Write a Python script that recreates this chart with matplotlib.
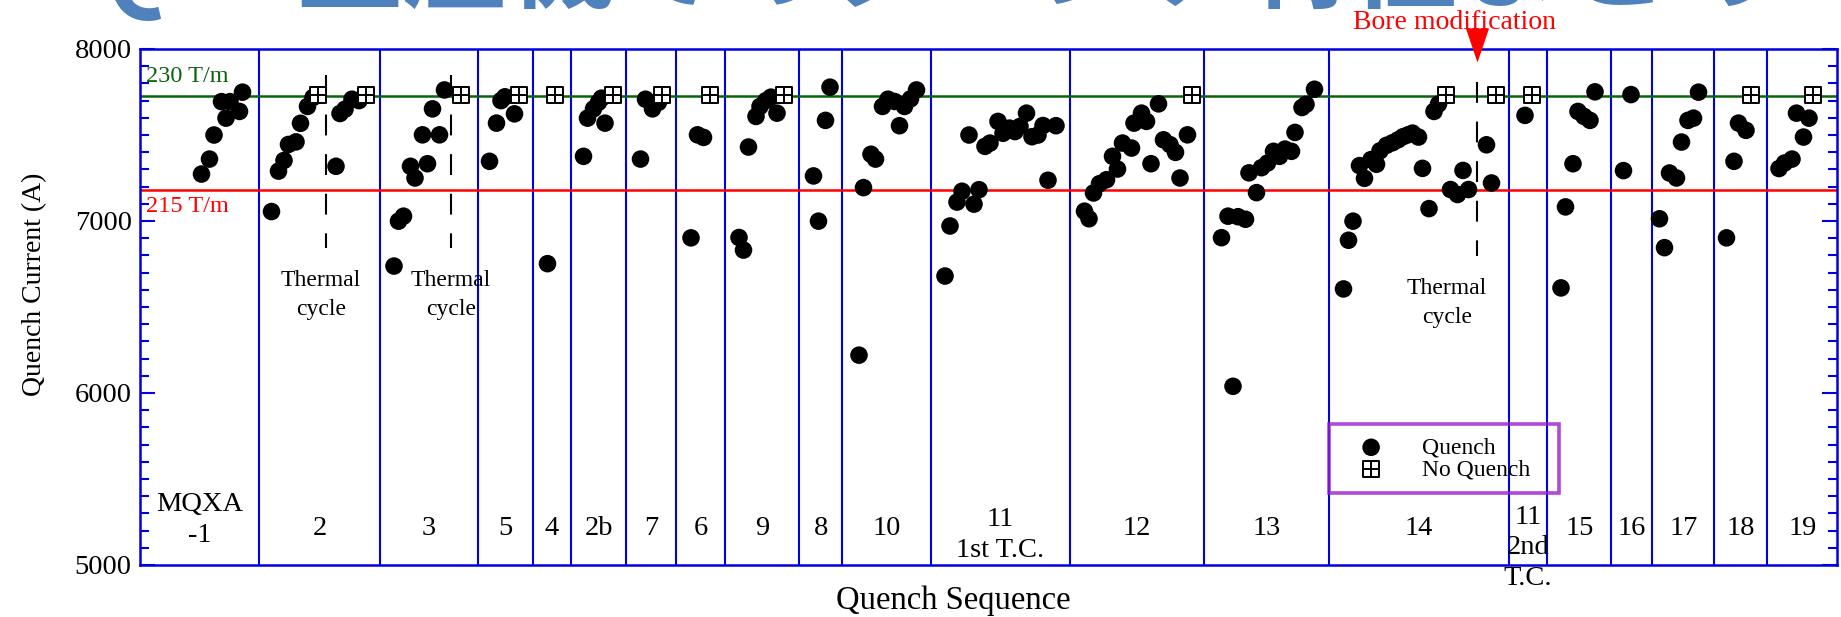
import matplotlib
matplotlib.use("Agg")
import matplotlib.pyplot as plt
from matplotlib.path import Path
from matplotlib.transforms import blended_transform_factory

plt.rcParams['font.family'] = ['Liberation Serif', 'DejaVu Serif']

# magnet order along the quench sequence, with section boundaries
section_labels = ['MQXA\n-1', '2', '3', '5', '4', '2b', '7', '6', '9', '8', '10',
                  '11\n1st T.C.', '12', '13', '14', '11\n2nd\nT.C.',
                  '15', '16', '17', '18', '19']
section_edges = [0, 23.8, 48.0, 67.6, 78.6, 86.2, 97.2, 107.2, 117.0, 131.9, 140.4,
                 158.2, 186.0, 212.8, 237.8, 273.8, 281.4, 294.3, 302.5, 314.9,
                 325.5, 339.4]

# quenches (sequence position, current in A)
quench_seq = [
    12.3, 13.9, 14.8, 16.3, 17.2, 18.0, 19.9, 20.5,
    26.3, 27.7, 28.8, 29.7, 31.2, 32.1, 33.5, 34.6, 39.2, 40.0, 41.0, 42.4, 43.8,
    50.8, 51.7, 52.7, 54.1, 55.0, 56.5, 57.5, 58.5, 59.9, 60.9,
    69.9, 71.3, 72.2, 73.0, 74.9,
    81.5,
    88.7, 89.5, 90.7, 91.7, 92.3, 93.0,
    100.1, 101.1, 102.5, 103.7,
    110.2, 111.5, 112.7,
    119.8, 120.7, 121.7, 123.2, 124.0, 125.2, 126.2, 127.4,
    134.7, 135.7, 137.1, 138.0,
    143.8, 144.7, 146.2, 147.1, 148.5, 149.6, 150.9, 151.9, 152.9, 154.1, 155.3,
    161.0, 162.0, 163.4, 164.4, 165.8, 166.8, 167.8, 169.0, 170.0, 171.6,
    172.6, 173.9, 175.0, 176.0, 177.3, 178.4, 179.6, 180.6, 181.6, 183.2,
    188.9, 189.8, 190.7, 191.9, 193.3, 194.5, 195.5, 196.5, 198.3, 198.8,
    200.3, 201.3, 202.2, 203.7, 204.7, 206.0, 207.1, 208.0, 209.5,
    216.3, 217.6, 218.6, 219.6, 221.1, 221.8, 223.3, 224.3, 225.5, 226.7,
    227.9, 229.0, 230.3, 231.0, 232.4, 233.2, 234.9,
    240.7, 241.7, 242.6, 243.9, 244.9, 246.2, 247.3, 248.0, 249.3, 250.5,
    251.6, 252.6, 253.6, 254.5, 255.7, 256.5, 257.8, 258.8, 259.7, 262.1,
    263.5, 264.6, 265.7, 269.3, 270.3,
    277.0,
    284.2, 285.1, 286.6, 287.6, 288.8, 290.0, 291.0,
    296.7, 298.2,
    303.9, 304.9, 305.9, 307.3, 308.3, 309.6, 310.7, 311.7,
    317.3, 318.8, 319.7, 321.2,
    327.8, 328.9, 330.4, 331.3, 332.7, 333.8,
]
quench_current = [
    7273, 7360, 7500, 7694, 7598, 7694, 7637, 7749,
    7055, 7290, 7352, 7445, 7460, 7568, 7666, 7718, 7318, 7625, 7650, 7708, 7700,
    6738, 6999, 7028, 7318, 7250, 7501, 7333, 7652, 7501, 7762,
    7347, 7569, 7700, 7722, 7623,
    6752,
    7376, 7598, 7652, 7690, 7714, 7569,
    7360, 7708, 7652, 7690,
    6902, 7501, 7486,
    6904, 6831, 7430, 7608, 7666, 7700, 7720, 7627,
    7262, 6999, 7585, 7778,
    6220, 7194, 7388, 7360, 7666, 7708, 7695, 7554, 7666, 7710, 7762,
    6680, 6971, 7110, 7173, 7500, 7098, 7182, 7434, 7453, 7579,
    7510, 7540, 7520, 7550, 7627, 7490, 7500, 7555, 7237, 7554,
    7057, 7013, 7163, 7217, 7240, 7376, 7302, 7453, 7424, 7569,
    7627, 7579, 7333, 7681, 7472, 7444, 7399, 7250, 7501,
    6903, 7028, 6039, 7025, 7010, 7280, 7165, 7310, 7337, 7405,
    7376, 7418, 7405, 7515, 7660, 7678, 7766,
    6605, 6888, 6999, 7322, 7248, 7357, 7330, 7408, 7440, 7455,
    7472, 7490, 7501, 7511, 7488, 7306, 7072, 7637, 7680, 7183,
    7154, 7294, 7183, 7443, 7221,
    7614,
    6611, 7082, 7333, 7637, 7608, 7585, 7751,
    7293, 7735,
    7013, 6845, 7279, 7250, 7459, 7585, 7598, 7749,
    6902, 7347, 7569, 7527,
    7305, 7337, 7360, 7627, 7488, 7598,
]

# ramps that reached the plateau without quenching
no_quench_seq = [35.6, 45.1, 64.3, 75.7, 83.0, 94.5, 104.5, 114.1, 128.8,
                 210.5, 261.2, 271.3, 278.5, 322.2, 334.7]
no_quench_current = [7730, 7730, 7730, 7730, 7730, 7730, 7730, 7730, 7730,
                     7730, 7730, 7730, 7730, 7730, 7730]

# thermal cycles and the bore modification
thermal_cycle_seq = [37.3, 62.3, 267.5]
thermal_cycle_span = [(7850, 6845), (7850, 6845), (7810, 6795)]
bore_mod_seq = 267.5

# currents for the 230 T/m and 215 T/m gradients
current_230 = 7725
current_215 = 7182

BLUE = '#0000e0'
GREEN = '#0a640a'
PURPLE = '#9a1ecf'

fig = plt.figure(figsize=(18.41, 6.17), dpi=100)
ax = fig.add_axes([140 / 1841, 1 - 565 / 617, 1697 / 1841, 516 / 617])

# slide heading, cut off by the top edge
fig.text(-0.004, 1.0, 'MQXA量産機でのクエンチ特性まとめ', fontsize=76,
         fontweight='bold', color='#4f81bd', family=['Noto Sans CJK JP'],
         ha='left', va='baseline')

ax.set_xlim(section_edges[0], section_edges[-1])
ax.set_ylim(5000, 8000)

for edge in section_edges[1:-1]:
    ax.axvline(edge, color=BLUE, lw=1.5, zorder=1)

ax.axhline(current_230, color=GREEN, lw=1.8, zorder=1.5)
ax.axhline(current_215, color='red', lw=1.8, zorder=1.5)
ax.text(1.3, 7807, '230 T/m', color=GREEN, fontsize=17.5, ha='left', va='baseline')
ax.text(1.3, 7051, '215 T/m', color='red', fontsize=17.5, ha='left', va='baseline')

# thermal cycle markers; the label's last line sits on the given baseline
label_shift = [-1.1, -0.1, -6.1]
for xs, (top, bottom), dx in zip(thermal_cycle_seq, thermal_cycle_span, label_shift):
    ax.plot([xs, xs], [top, bottom], color='black', lw=1.5,
            linestyle=(0, (10, 9)), zorder=2)
    ax.text(xs + dx, bottom - 390, 'Thermal\ncycle', fontsize=17, ha='center',
            va='baseline', linespacing=1.5)

# bore modification arrow above the plot frame
tri = Path([(-0.34, 0.5), (0.34, 0.5), (0, -0.5), (-0.34, 0.5)],
           [Path.MOVETO, Path.LINETO, Path.LINETO, Path.CLOSEPOLY])
ax.plot([bore_mod_seq], [8023], marker=tri, markersize=24.5, color='red',
        markeredgewidth=0, clip_on=False, zorder=5)
ax.text(bore_mod_seq - 4.5, 8114, 'Bore modification', color='red', fontsize=20,
        ha='center', va='baseline')

q_sc = ax.scatter(quench_seq, quench_current, s=160, color='black',
                  edgecolors='none', zorder=3)
nq_box = ax.scatter(no_quench_seq, no_quench_current, s=118, marker='s',
                    facecolors='white', edgecolors='black', linewidths=1.4, zorder=3)
nq_plus = ax.scatter(no_quench_seq, no_quench_current, s=118, marker='+',
                     color='black', linewidths=1.4, zorder=3.1)

# section names under the data (baseline of the last line)
trans = blended_transform_factory(ax.transData, ax.transAxes)
label_base = {'MQXA\n-1': 0.0446, '11\n1st T.C.': 0.0155, '11\n2nd\nT.C.': -0.0388}
for i, name in enumerate(section_labels):
    xc = (section_edges[i] + section_edges[i + 1]) / 2
    ax.text(xc, label_base.get(name, 0.0581), name, transform=trans, fontsize=20.5,
            ha='center', va='baseline', linespacing=1.3, multialignment='center')

leg = ax.legend([q_sc, (nq_box, nq_plus)], ['Quench', 'No Quench'],
                loc='upper left', bbox_to_anchor=(0.7007, 0.1415, 0.1355, 0.1318),
                mode='expand', borderaxespad=0, fontsize=17, frameon=True,
                fancybox=False, edgecolor=PURPLE, facecolor='none',
                borderpad=0.55, labelspacing=0.0, handlelength=2.46,
                handletextpad=0.93, scatterpoints=1)
leg.get_frame().set_linewidth(2.6)

ax.set_xticks([])
ax.set_yticks([5000, 6000, 7000, 8000])
ax.set_yticks(range(5000, 8001, 100), minor=True)
ax.tick_params(axis='y', which='both', direction='in', color=BLUE, width=1.5,
               right=True, labelsize=20.5, pad=6)
ax.tick_params(axis='y', which='major', length=11)
ax.tick_params(axis='y', which='minor', length=6.5)
for spine in ax.spines.values():
    spine.set_color(BLUE)
    spine.set_linewidth(1.8)

ax.set_ylabel('Quench Current (A)', fontsize=20)
ax.yaxis.set_label_coords(-0.0548, 0.5446)
ax.set_xlabel('Quench Sequence', fontsize=23.5)
ax.xaxis.set_label_coords(0.479, -0.0388)

fig.savefig('out.png', dpi=100)
